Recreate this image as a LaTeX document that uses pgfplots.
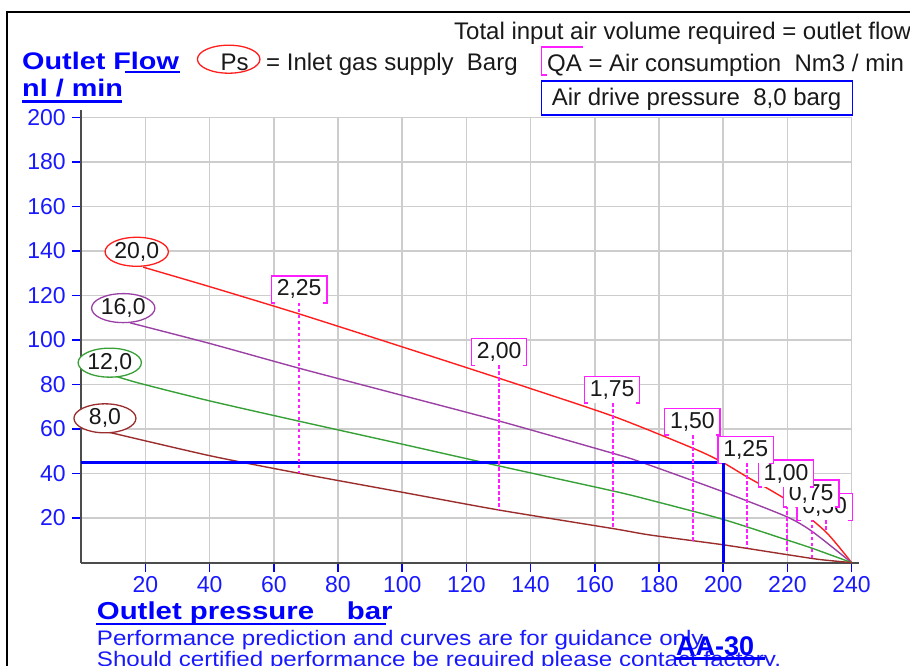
\documentclass[border=0pt]{standalone}
\usepackage{fontspec}
\setmainfont{Liberation Sans}
\newfontfamily\stretchbf[FakeStretch=1.2]{Liberation Sans}
\newfontfamily\stretchrm[FakeStretch=1.15]{Liberation Sans}
\usepackage{graphicx}
\usepackage{pgfplots}
\pgfplotsset{compat=1.18}
\usetikzlibrary{shapes.geometric}
\definecolor{cred}{RGB}{255,30,30}
\definecolor{cpurple}{RGB}{155,65,165}
\definecolor{cgreen}{RGB}{55,160,55}
\definecolor{cbrown}{RGB}{155,45,45}
\definecolor{cmag}{RGB}{255,30,255}
\definecolor{tblue}{RGB}{25,25,255}
\definecolor{lblue}{RGB}{0,0,255}
\definecolor{gridgray}{RGB}{205,205,205}
\definecolor{txt}{RGB}{25,25,25}
\tikzset{
  psell/.style={ellipse, draw=#1, line width=1.3pt, fill=white, minimum width=62pt, minimum height=29pt, inner sep=0pt, text=txt, font=\fontsize{23}{23}\selectfont},
  qabox/.style={fill=white, minimum width=55pt, minimum height=26.5pt, inner sep=0pt, text=txt, font=\fontsize{23}{23}\selectfont},
  qadot/.style={cmag, line width=2pt, dash pattern=on 3.5pt off 2.5pt},
}
\newcommand{\bracket}[1]{\draw[cmag, line width=1.3pt] ([xshift=4pt]#1.south west) -- (#1.south west) -- (#1.north west) -- (#1.north east) -- (#1.south east) -- ([xshift=-4pt]#1.south east);}
\begin{document}
\begin{tikzpicture}
\begin{scope}[x=1pt,y=1pt]
\path[use as bounding box] (0,0) rectangle (910,-666);
\draw[black, line width=1.5pt] (7,-666) -- (7,-12) -- (910,-12);
% header texts
\node[anchor=base west, inner sep=0pt, text=txt, font=\fontsize{24}{24}\selectfont] at (454,-39.3) {Total input air volume required = outlet flow};
\node[anchor=base west, inner sep=0pt, text=lblue, font=\stretchbf\bfseries\fontsize{24}{24}\selectfont] at (22,-69.3) {Outlet Flow};
\draw[lblue, line width=2.5pt] (125,-72) -- (180,-72);
\node[anchor=base west, inner sep=0pt, text=lblue, font=\stretchbf\bfseries\fontsize{24}{24}\selectfont] at (22,-96.7) {nl / min};
\draw[lblue, line width=2.5pt] (22,-101.5) -- (122,-101.5);
\node[ellipse, draw=cred, line width=1.3pt, minimum width=62.5pt, minimum height=28pt, inner sep=0pt] at (228.7,-59.2) {};
\node[anchor=base west, inner sep=0pt, text=txt, font=\fontsize{24}{24}\selectfont] at (220.5,-70.7) {Ps};
\node[anchor=base west, inner sep=0pt, text=txt, font=\fontsize{24}{24}\selectfont] at (266,-71) {= Inlet gas supply\ \ Barg};
\draw[cmag, line width=1.3pt] (583,-47) -- (541.7,-47) -- (541.7,-75) -- (547,-75);
\node[anchor=base west, inner sep=0pt, text=txt, font=\fontsize{24}{24}\selectfont] at (547,-71.5) {QA = Air consumption\ \ Nm3 / min};
\draw[lblue, line width=1.5pt] (541.7,-81) rectangle (852.7,-115);
\node[anchor=base west, inner sep=0pt, text=txt, font=\fontsize{24}{24}\selectfont] at (551.7,-105.5) {Air drive pressure\ \ 8,0 barg};
% footer texts
\node[anchor=base west, inner sep=0pt, text=lblue, font=\stretchbf\bfseries\fontsize{24.5}{24.5}\selectfont] at (96.7,-619.3) {Outlet pressure\ \ \ \ bar};
\draw[lblue, line width=2.5pt] (96,-623.8) -- (386,-623.8);
\node[anchor=base west, inner sep=0pt, text=tblue, font=\stretchrm\fontsize{21}{21}\selectfont] at (96.7,-645) {Performance prediction and curves are for guidance only.};
\node[anchor=base west, inner sep=0pt, text=tblue, font=\stretchrm\fontsize{21}{21}\selectfont] at (96.7,-666.7) {Should certified performance be required please contact factory.};
\node[anchor=base west, inner sep=0pt, text=lblue, font=\bfseries\fontsize{27}{27}\selectfont] at (676,-655) {AA-30};
\draw[lblue, line width=2.3pt] (675,-658.5) -- (765,-658.5);
\end{scope}
\begin{axis}[
  at={(81.2pt,-562.6pt)}, anchor=south west,
  scale only axis, width=770.4pt, height=445.3pt,
  xmin=0, xmax=240, ymin=0, ymax=200,
  axis x line*=bottom, axis y line*=left,
  axis line style={-, draw=black!70, line width=1.8pt},
  x axis line style={shorten >=-7.5pt},
  y axis line style={shorten >=-7pt},
  xtick={20,40,...,240}, ytick={20,40,...,200},
  grid=major, major grid style={gridgray, line width=1.6pt},
  tick align=outside, major tick length=9pt,
  tick style={lblue, line width=1.5pt},
  /pgf/number format/assume math mode=true,
  ticklabel style={font=\fontsize{23}{23}\selectfont, text=tblue},
  yticklabel style={xshift=-3pt},
  xticklabel style={yshift=-1.5pt},
  clip=false,
]
\addplot[cred, line width=1.4pt, smooth, tension=0.4] coordinates {(19.3,132.7) (40.1,123.9) (67.9,111.7) (100,96.9) (130.2,82.8) (165.6,65.8) (190.7,51.3) (199.5,45.3) (207.3,38.6) (219.8,28.1) (231.9,13.9) (240,0)};
\addplot[cpurple, line width=1.4pt, smooth, tension=0.4] coordinates {(15.2,107.7) (40.1,98.4) (67.9,87.3) (100,75.1) (130.2,63.6) (165.6,49.1) (174.1,45.3) (200,31.8) (219.8,20.6) (227.8,13.9) (240,0)};
\addplot[cgreen, line width=1.4pt, smooth, tension=0.4] coordinates {(10.5,83.8) (18.3,80.5) (40.1,72.6) (67.9,63.5) (100,53.2) (130.2,43.4) (165.6,32.2) (177.2,28.1) (200,19.4) (219.8,10.2) (227.8,6.4) (240,0)};
\addplot[cbrown, line width=1.4pt, smooth, tension=0.4] coordinates {(7.9,58.8) (40.1,48.0) (67.9,40.1) (100,31.6) (130.2,23.6) (165.6,15.3) (177.2,12.4) (200,8.0) (219.8,3.6) (230,1.4) (240,0)};
% air drive line
\addplot[lblue, line width=3pt] coordinates {(0,45) (200,45) (200,0)};
% QA dotted lines
\addplot[qadot] coordinates {(67.9,116.7) (67.9,40.1)};
\addplot[qadot] coordinates {(130.2,88.7) (130.2,23.6)};
\addplot[qadot] coordinates {(165.6,71.5) (165.6,15.3)};
\addplot[qadot] coordinates {(190.7,57.3) (190.7,9.8)};
\addplot[qadot] coordinates {(207.3,44.6) (207.3,6.5)};
\addplot[qadot] coordinates {(219.8,33.8) (219.8,4.2)};
\addplot[qadot] coordinates {(227.8,25.1) (227.8,2.2)};
\addplot[qadot] coordinates {(231.9,19.1) (231.9,13.9)};
% Ps ellipses
\node[psell=cred] at (axis cs:17.3,139.6) {20,0};
\node[psell=cpurple] at (axis cs:13.1,114.3) {16,0};
\node[psell=cgreen] at (axis cs:8.9,89.8) {12,0};
\node[psell=cbrown] at (axis cs:7.4,64.8) {8,0};
% QA boxes
\node[qabox] (q8) at (axis cs:231.6,25.1) {0,50}; \bracket{q8}
\node[qabox] (q7) at (axis cs:227.4,31.0) {0,75}; \bracket{q7}
\node[qabox] (q6) at (axis cs:219.6,40.0) {1,00}; \bracket{q6}
\node[qabox] (q5) at (axis cs:207.0,50.6) {1,25}; \bracket{q5}
\node[qabox] (q4) at (axis cs:190.4,63.3) {1,50}; \bracket{q4}
\node[qabox] (q3) at (axis cs:165.4,77.7) {1,75}; \bracket{q3}
\node[qabox] (q2) at (axis cs:130.2,94.7) {2,00}; \bracket{q2}
\node[qabox] (q1) at (axis cs:67.9,122.7) {2,25}; \bracket{q1}
\end{axis}
\end{tikzpicture}
\end{document}
